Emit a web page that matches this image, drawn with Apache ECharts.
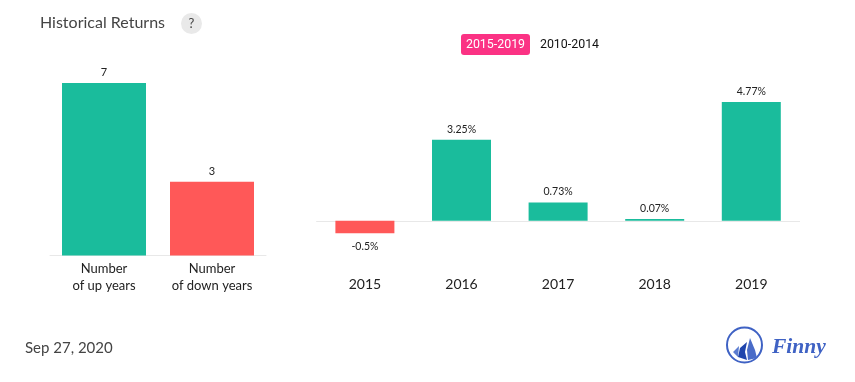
<!DOCTYPE html>
<html><head><meta charset="utf-8">
<style>html,body{margin:0;padding:0;background:#fff}#c{width:855px;height:382px}</style>
<script src="https://cdn.jsdelivr.net/npm/echarts@6/dist/echarts.min.js"></script>
</head><body><div id="c"></div>
<script>
const countCategories = ['Number\nof up years', 'Number\nof down years'];
const countValues = [7, 3];
const years = ['2015', '2016', '2017', '2018', '2019'];
const returns = [-0.5, 3.25, 0.73, 0.07, 4.77];
const titleText = 'Historical Returns';
const dateText = 'Sep 27, 2020';
const activeRange = '2015-2019';
const otherRange = '2010-2014';
const UP = '#1abc9c', DOWN = '#ff5858', FONT = 'Lato';

const chart = echarts.init(document.getElementById('c'), null, {renderer: 'canvas'});
chart.setOption({
  animation: false,
  textStyle: {fontFamily: FONT},
  grid: [
    {left: 50, width: 216, top: 83, height: 172.6, containLabel: false},
    {left: 316.6, width: 483, top: 102, height: 131.2, containLabel: false}
  ],
  xAxis: [
    {gridIndex: 0, type: 'category', data: countCategories,
     axisTick: {show: false},
     axisLine: {lineStyle: {color: '#e8e8e8', width: 1}},
     axisLabel: {color: '#222', fontSize: 13, lineHeight: 17, margin: 5, fontFamily: FONT}},
    {gridIndex: 1, type: 'category', data: years,
     axisTick: {show: false},
     axisLine: {onZero: true, lineStyle: {color: '#e8e8e8', width: 1}},
     axisLabel: {color: '#222', fontSize: 14, margin: 44, fontFamily: FONT, lineHeight: 14}}
  ],
  yAxis: [
    {gridIndex: 0, type: 'value', min: 0, max: 7, show: false},
    {gridIndex: 1, type: 'value', min: -0.5, max: 4.77, show: false}
  ],
  series: [
    {type: 'bar', xAxisIndex: 0, yAxisIndex: 0, barWidth: 84,
     data: countValues.map((v, i) => ({value: v, itemStyle: {color: i === 0 ? UP : DOWN}})),
     label: {show: true, position: 'top', distance: 5, color: '#222', fontSize: 11, fontFamily: FONT}},
    {type: 'bar', xAxisIndex: 1, yAxisIndex: 1, barWidth: 59,
     data: returns.map(v => ({value: v,
       itemStyle: {color: v < 0 ? DOWN : UP},
       label: {position: v < 0 ? 'bottom' : 'top', distance: v < 0 ? 8 : 5}})),
     label: {show: true, color: '#222', fontSize: 10.5, fontFamily: FONT,
       formatter: p => p.value + '%'}}
  ],
  graphic: [
    {type: 'text', x: 40, y: 23, style: {text: titleText, fill: '#444', font: '16px Lato', verticalAlign: 'middle'}},
    {type: 'circle', shape: {cx: 191.5, cy: 23.5, r: 10.5}, style: {fill: '#e9e9e9'}},
    {type: 'text', x: 191.5, y: 23.5, style: {text: '?', fill: '#444', font: '13px Lato', align: 'center', verticalAlign: 'middle'}},
    {type: 'rect', shape: {x: 461, y: 34, width: 69, height: 21, r: 3}, style: {fill: '#fb3284'}},
    {type: 'text', x: 495.5, y: 44.5, style: {text: activeRange, fill: '#fff', font: '12.4px Roboto', align: 'center', verticalAlign: 'middle'}},
    {type: 'text', x: 569.5, y: 44.5, style: {text: otherRange, fill: '#111', font: '12.4px Roboto', align: 'center', verticalAlign: 'middle'}},
    {type: 'text', x: 25, y: 348, style: {text: dateText, fill: '#444', font: '15px Lato', verticalAlign: 'middle'}},
    {type: 'circle', shape: {cx: 744.5, cy: 345, r: 17.5}, style: {fill: 'none', stroke: '#3f62c4', lineWidth: 2}},
    {type: 'polygon', shape: {points: [[733,352],[739,346],[738,357],[742,361]]}, style: {fill: '#5a7bd0'}},
    {type: 'polygon', shape: {points: [[738,357],[740,348],[747,342],[745,352],[747,360]]}, style: {fill: '#1f45ad'}},
    {type: 'polygon', shape: {points: [[748,360],[747,350],[750,338],[755,350],[757,358]]}, style: {fill: '#4a6cc8'}},
    {type: 'text', x: 772, y: 347, style: {text: 'Finny', fill: '#3f62c4', font: 'italic bold 21.5px "Liberation Serif"', verticalAlign: 'middle'}}
  ]
});
</script></body></html>
